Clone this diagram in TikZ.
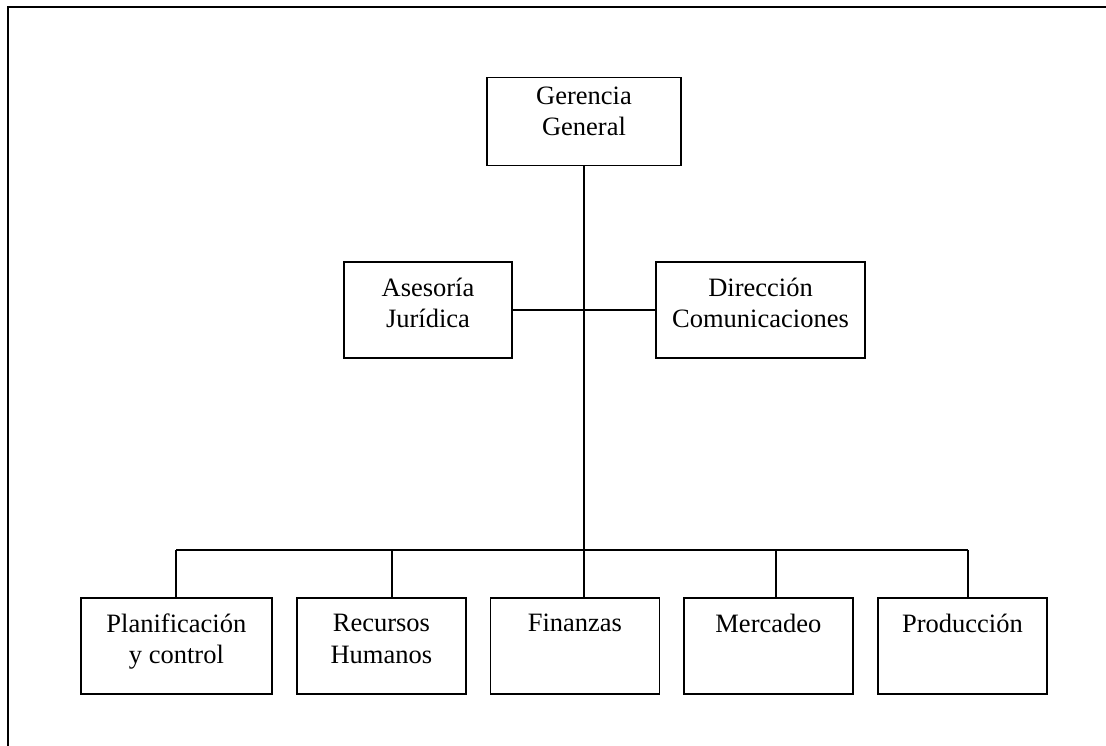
\documentclass[tikz,border=0pt]{standalone}
\usepackage{fontspec}
\setmainfont{Liberation Serif}
\usepackage{tikz}
\usetikzlibrary{positioning}
\newcommand{\tstrut}{\rule{0pt}{20pt}}
\newcommand{\bstrut}[1]{\rule[-#1]{0pt}{#1}}
\tikzset{
  unit/.style={draw,line width=1.5pt,align=center,inner sep=0pt,font=\fontsize{26.5}{31.5}\selectfont,
    execute at begin node=\tstrut,execute at end node=\bstrut{14.5pt}},
  low/.style={unit,minimum width=169pt,minimum height=96pt},
  ln/.style={line width=1.5pt}
}

\begin{document}
\begin{tikzpicture}[x=1pt,y=-1pt]
\useasboundingbox (0,0) rectangle (1106,746);
\draw[line width=2pt] (7.5,746)--(7.5,7)--(1106,7);
% top and staff units
\node[unit,minimum width=194pt,minimum height=88pt,execute at end node=\bstrut{20.5pt}] (gg) at (584,121.5) {Gerencia\\General};
\node[unit,minimum width=168pt,minimum height=96pt] (aj) at (428,310) {Asesoría\\Jurídica};
\node[unit,minimum width=209pt,minimum height=96pt] (dc) at (760.5,310) {Dirección\\Comunicaciones};
% departments
\node[low,minimum width=191pt] (pc) at (176.4,646) {Planificación\\y control};
\node[low,right=23.5pt of pc] (rh) {Recursos\\Humanos};
\node[low,right=23pt of rh] (fn) {Finanzas\\\mbox{}};
\node[low,right=23pt of fn] (mc) {Mercadeo\\\mbox{}};
\node[low,right=23.5pt of mc] (pr) {Producción\\\mbox{}};
% lines
\coordinate (bus) at (584,550);
\coordinate (bl) at (176,550); \coordinate (br) at (968,550);
\draw[ln] (gg.south)--(bus);
\draw[ln] (aj.east)--(dc.west);
\draw[ln] (bl)--(br);
\foreach \n/\x in {pc/176,rh/392,fn/584,mc/776,pr/968}
  \draw[ln] (\x,550) coordinate (s) -- (s |- \n.north);
\end{tikzpicture}
\end{document}
